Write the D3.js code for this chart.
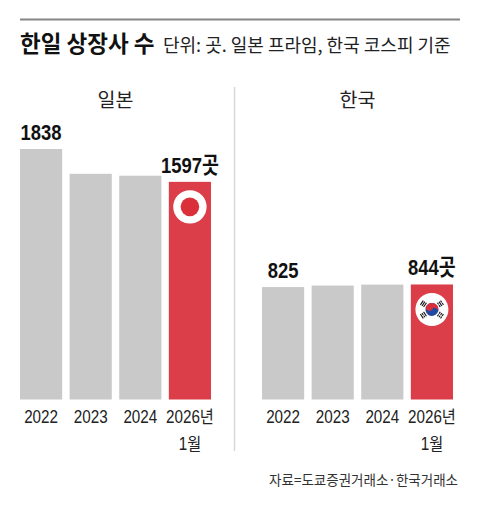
<!DOCTYPE html>
<html><head><meta charset="utf-8">
<script src="https://cdn.jsdelivr.net/npm/d3@7"></script>
<style>
html,body{margin:0;padding:0;background:#fff;}
svg{display:block;}
.num{font-family:"Liberation Sans","Noto Sans CJK KR",sans-serif;}
.kr{font-family:"Noto Sans CJK KR","Noto Sans",sans-serif;}
</style>
</head><body>
<script>
// ---- data ----
const years = ["2022", "2023", "2024", "2026년"];
const yearSub = ["", "", "", "1월"];
const japanValues = [1838, 1656, 1642, 1597];
const koreaValues = [825, 836, 843, 844];
const japanLabels = ["1838", "", "", "1597곳"];
const koreaLabels = ["825", "", "", "844곳"];
const panelNames = ["일본", "한국"];
const title = "한일 상장사 수";
const subtitle = "단위: 곳. 일본 프라임, 한국 코스피 기준";
const source = "자료=도쿄증권거래소·한국거래소";

// ---- drawing ----
const W = 480, H = 520;
const svg = d3.select("body").append("svg").attr("width", W).attr("height", H);
svg.append("rect").attr("width", W).attr("height", H).attr("fill", "#fff");

svg.append("line").attr("x1", 20).attr("x2", 460).attr("y1", 19.5).attr("y2", 19.5)
  .attr("stroke", "#858585").attr("stroke-width", 2);

svg.append("text").attr("class", "kr").attr("x", 20).attr("y", 52)
  .attr("font-size", 22.5).attr("font-weight", 700).attr("fill", "#111").text(title);
svg.append("text").attr("class", "kr").attr("x", 163).attr("y", 52)
  .attr("font-size", 18).attr("fill", "#222").text(subtitle);

svg.append("line").attr("x1", 234.5).attr("x2", 234.5).attr("y1", 87).attr("y2", 451)
  .attr("stroke", "#d8d8d8").attr("stroke-width", 1.5);

const y = d3.scaleLinear().domain([0, 1838]).range([399.5, 149]);

const GRAY = "#c9c9c9", RED = "#db3e48";

const panels = [
  { name: panelNames[0], values: japanValues, labels: japanLabels, range: [20, 211], flag: "jp" },
  { name: panelNames[1], values: koreaValues, labels: koreaLabels, range: [262, 453], flag: "kr" }
];

panels.forEach(p => {
  const x = d3.scaleBand().domain(years).range(p.range).paddingInner(0.15).paddingOuter(0);
  const g = svg.append("g");
  const cx = (p.range[0] + p.range[1]) / 2;
  g.append("text").attr("class", "kr").attr("x", cx).attr("y", 107)
    .attr("text-anchor", "middle").attr("font-size", 19.5).attr("fill", "#222").text(p.name);

  g.selectAll("rect.bar").data(years).join("rect").attr("class", "bar")
    .attr("x", d => x(d)).attr("width", x.bandwidth())
    .attr("y", (d, i) => y(p.values[i]))
    .attr("height", (d, i) => y(0) - y(p.values[i]))
    .attr("fill", (d, i) => i === years.length - 1 ? RED : GRAY);

  g.selectAll("text.val").data(years).join("text").attr("class", "val num")
    .attr("transform", (d, i) => `translate(${x(d) + x.bandwidth() / 2},${y(p.values[i]) - 9}) scale(0.82,1)`)
    .attr("text-anchor", "middle").attr("font-size", 22.5).attr("font-weight", 700)
    .attr("fill", "#111").text((d, i) => p.labels[i]);

  g.selectAll("text.year").data(years).join("text").attr("class", "year num")
    .attr("transform", d => `translate(${x(d) + x.bandwidth() / 2},422.5) scale(0.87,1)`)
    .attr("text-anchor", "middle").attr("font-size", 17.5).attr("fill", "#222").text(d => d);
  g.selectAll("text.sub").data(years).join("text").attr("class", "sub num")
    .attr("transform", d => `translate(${x(d) + x.bandwidth() / 2},450) scale(0.87,1)`)
    .attr("text-anchor", "middle").attr("font-size", 17.5).attr("fill", "#222").text((d, i) => yearSub[i]);

  const last = years[years.length - 1];
  const fx = x(last) + x.bandwidth() / 2;
  const fy = y(p.values[years.length - 1]) + 25;
  const fg = g.append("g").attr("transform", `translate(${fx},${fy})`);
  if (p.flag === "jp") {
    fg.append("circle").attr("r", 16.7).attr("fill", "#fff");
    fg.append("circle").attr("r", 9.3).attr("fill", "#d9303a");
  } else {
    fg.append("circle").attr("r", 16.5).attr("fill", "#fff");
    const R = 6.5;
    const tg = fg.append("g").attr("transform", "rotate(33.7)");
    tg.append("circle").attr("r", R).attr("fill", "#1f4aa0");
    tg.append("path").attr("fill", "#d82f3c")
      .attr("d", `M${-R},0 A${R},${R} 0 0 1 ${R},0 A${R/2},${R/2} 0 0 0 0,0 A${R/2},${R/2} 0 0 1 ${-R},0 Z`);
    const tri = [
      { a: 213.7, p: [1, 1, 1] },
      { a: 33.7, p: [0, 0, 0] },
      { a: -33.7, p: [0, 1, 0] },
      { a: 146.3, p: [1, 0, 1] }
    ];
    const d0 = 10.2, L = 5.2, th = 1.1, gap = 0.8;
    tri.forEach(t => {
      const rad = t.a * Math.PI / 180;
      const tgr = fg.append("g")
        .attr("transform", `translate(${d0 * Math.cos(rad)},${d0 * Math.sin(rad)}) rotate(${t.a + 90})`);
      t.p.forEach((solid, k) => {
        const yy = (k - 1) * (th + gap) - th / 2;
        if (solid) {
          tgr.append("rect").attr("x", -L / 2).attr("y", yy).attr("width", L).attr("height", th).attr("fill", "#111");
        } else {
          tgr.append("rect").attr("x", -L / 2).attr("y", yy).attr("width", L * 0.43).attr("height", th).attr("fill", "#111");
          tgr.append("rect").attr("x", L * 0.07).attr("y", yy).attr("width", L * 0.43).attr("height", th).attr("fill", "#111");
        }
      });
    });
  }
});

svg.append("text").attr("class", "kr").attr("x", 458).attr("y", 485)
  .attr("text-anchor", "end").attr("font-size", 13.5).attr("fill", "#333").text(source);
</script>
</body></html>
